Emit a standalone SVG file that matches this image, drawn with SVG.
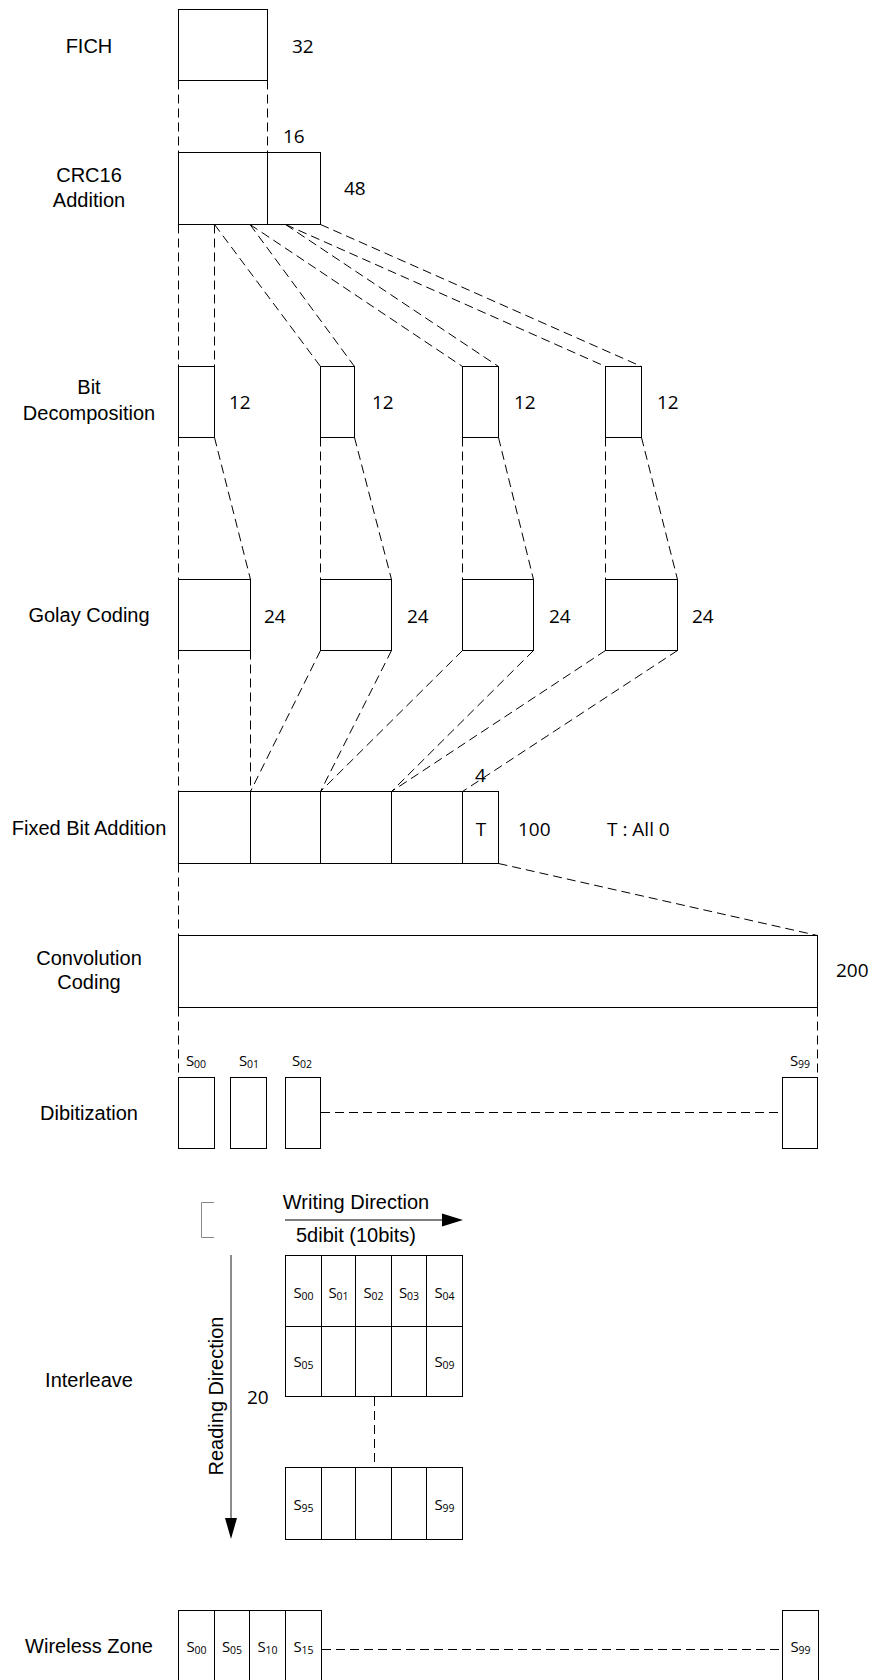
<svg xmlns="http://www.w3.org/2000/svg" width="876" height="1680" viewBox="0 0 876 1680">
<style>
.bx{fill:#fff;stroke:#000;stroke-width:1}
.dv{fill:none;stroke:#000;stroke-width:1}
.dash{fill:none;stroke:#000;stroke-width:1;stroke-dasharray:9 5}
.lbl{font-family:"Liberation Sans",Arial,sans-serif;font-size:20px;fill:#000;text-anchor:middle}
.num{font-family:"Open Sans","Liberation Sans",sans-serif;font-size:19px;fill:#000}
.s{font-family:"Open Sans","Liberation Sans",sans-serif;font-size:15px;fill:#000;text-anchor:middle}
.sub{font-size:10.5px}
</style>
<rect width="876" height="1680" fill="#fff"/>

<g id="connectors">
  <line class="dash" x1="178.5" y1="80.5" x2="178.5" y2="152.5"/>
  <line class="dash" x1="267.5" y1="80.5" x2="267.5" y2="152.5"/>

  <line class="dash" x1="178.5" y1="224.5" x2="178.5" y2="366.5"/>
  <line class="dash" x1="214.5" y1="224.5" x2="214.5" y2="366.5"/>
  <line class="dash" x1="214.5" y1="224.5" x2="320.5" y2="366.5"/>
  <line class="dash" x1="250" y1="224.5" x2="354.5" y2="366.5"/>
  <line class="dash" x1="250" y1="224.5" x2="462.5" y2="366.5"/>
  <line class="dash" x1="285.5" y1="224.5" x2="498.5" y2="366.5"/>
  <line class="dash" x1="285.5" y1="224.5" x2="605.5" y2="366.5"/>
  <line class="dash" x1="320.5" y1="224.5" x2="641.5" y2="366.5"/>

  <line class="dash" x1="178.5" y1="437.5" x2="178.5" y2="579.5"/>
  <line class="dash" x1="214.5" y1="437.5" x2="250.5" y2="579.5"/>
  <line class="dash" x1="320.5" y1="437.5" x2="320.5" y2="579.5"/>
  <line class="dash" x1="354.5" y1="437.5" x2="391.5" y2="579.5"/>
  <line class="dash" x1="462.5" y1="437.5" x2="462.5" y2="579.5"/>
  <line class="dash" x1="498.5" y1="437.5" x2="533.5" y2="579.5"/>
  <line class="dash" x1="605.5" y1="437.5" x2="605.5" y2="579.5"/>
  <line class="dash" x1="641.5" y1="437.5" x2="677.5" y2="579.5"/>

  <line class="dash" x1="178.5" y1="650.5" x2="178.5" y2="791.5"/>
  <line class="dash" x1="250.5" y1="650.5" x2="250.5" y2="791.5"/>
  <line class="dash" x1="320.5" y1="650.5" x2="250.5" y2="791.5"/>
  <line class="dash" x1="391.5" y1="650.5" x2="320.5" y2="791.5"/>
  <line class="dash" x1="462.5" y1="650.5" x2="320.5" y2="791.5"/>
  <line class="dash" x1="533.5" y1="650.5" x2="391.5" y2="791.5"/>
  <line class="dash" x1="605.5" y1="650.5" x2="391.5" y2="791.5"/>
  <line class="dash" x1="677.5" y1="650.5" x2="462.5" y2="791.5"/>

  <line class="dash" x1="178.5" y1="863.5" x2="178.5" y2="935.5"/>
  <line class="dash" x1="498.5" y1="863.5" x2="817.5" y2="935.5"/>

  <line class="dash" x1="178.5" y1="1007.5" x2="178.5" y2="1077.5"/>
  <line class="dash" x1="817.5" y1="1007.5" x2="817.5" y2="1077.5"/>

  <line class="dash" x1="321" y1="1112.5" x2="780" y2="1112.5"/>
  <line class="dash" x1="374.5" y1="1397" x2="374.5" y2="1464"/>
  <line class="dash" x1="322" y1="1649.5" x2="782" y2="1649.5"/>
</g>

<g id="fich">
  <text class="lbl" x="89" y="53">FICH</text>
  <rect class="bx" x="178.5" y="9.5" width="89" height="71"/>
  <text class="num" x="292" y="53">32</text>
</g>

<g id="crc16">
  <text class="lbl" x="89" y="182">CRC16</text>
  <text class="lbl" x="89" y="207">Addition</text>
  <rect class="bx" x="178.5" y="152.5" width="142" height="72"/>
  <line class="dv" x1="267.5" y1="152.5" x2="267.5" y2="224.5"/>
  <text class="num" x="283" y="143">16</text>
  <text class="num" x="344" y="195">48</text>
</g>

<g id="bit-decomposition">
  <text class="lbl" x="89" y="394">Bit</text>
  <text class="lbl" x="89" y="420">Decomposition</text>
  <rect class="bx" x="178.5" y="366.5" width="36" height="71"/>
  <rect class="bx" x="320.5" y="366.5" width="34" height="71"/>
  <rect class="bx" x="462.5" y="366.5" width="36" height="71"/>
  <rect class="bx" x="605.5" y="366.5" width="36" height="71"/>
  <text class="num" x="229" y="409">12</text>
  <text class="num" x="372" y="409">12</text>
  <text class="num" x="514" y="409">12</text>
  <text class="num" x="657" y="409">12</text>
</g>

<g id="golay-coding">
  <text class="lbl" x="89" y="622">Golay Coding</text>
  <rect class="bx" x="178.5" y="579.5" width="72" height="71"/>
  <rect class="bx" x="320.5" y="579.5" width="71" height="71"/>
  <rect class="bx" x="462.5" y="579.5" width="71" height="71"/>
  <rect class="bx" x="605.5" y="579.5" width="72" height="71"/>
  <text class="num" x="264" y="623">24</text>
  <text class="num" x="407" y="623">24</text>
  <text class="num" x="549" y="623">24</text>
  <text class="num" x="692" y="623">24</text>
</g>

<g id="fixed-bit-addition">
  <text class="lbl" x="89" y="835">Fixed Bit Addition</text>
  <rect class="bx" x="178.5" y="791.5" width="320" height="72"/>
  <line class="dv" x1="250.5" y1="791.5" x2="250.5" y2="863.5"/>
  <line class="dv" x1="320.5" y1="791.5" x2="320.5" y2="863.5"/>
  <line class="dv" x1="391.5" y1="791.5" x2="391.5" y2="863.5"/>
  <line class="dv" x1="462.5" y1="791.5" x2="462.5" y2="863.5"/>
  <text class="num" x="481" y="836" text-anchor="middle">T</text>
  <text class="num" x="475" y="782">4</text>
  <text class="num" x="518" y="836">100</text>
  <text class="num" x="607" y="836">T : All 0</text>
</g>

<g id="convolution-coding">
  <text class="lbl" x="89" y="965">Convolution</text>
  <text class="lbl" x="89" y="989">Coding</text>
  <rect class="bx" x="178.5" y="935.5" width="639" height="72"/>
  <text class="num" x="836" y="977">200</text>
</g>

<g id="dibitization">
  <text class="lbl" x="89" y="1120">Dibitization</text>
  <rect class="bx" x="178.5" y="1077.5" width="36" height="71"/>
  <rect class="bx" x="230.5" y="1077.5" width="36" height="71"/>
  <rect class="bx" x="285.5" y="1077.5" width="35" height="71"/>
  <rect class="bx" x="782.5" y="1077.5" width="35" height="71"/>
  <text class="s" x="196" y="1066">S<tspan class="sub" dy="1.5">00</tspan></text>
  <text class="s" x="249" y="1066">S<tspan class="sub" dy="1.5">01</tspan></text>
  <text class="s" x="302" y="1066">S<tspan class="sub" dy="1.5">02</tspan></text>
  <text class="s" x="800" y="1066">S<tspan class="sub" dy="1.5">99</tspan></text>
</g>

<g id="interleave">
  <text class="lbl" x="89" y="1387">Interleave</text>
  <path d="M214 1202.5 H201.5 V1237.5 H214" fill="none" stroke="#888" stroke-width="1"/>
  <text class="lbl" x="356" y="1209">Writing Direction</text>
  <line x1="285" y1="1220" x2="444" y2="1220" stroke="#000" stroke-width="1"/>
  <polygon points="442,1213.5 463,1220 442,1226.5" fill="#000"/>
  <text class="lbl" x="356" y="1242">5dibit (10bits)</text>
  <line x1="231" y1="1255" x2="231" y2="1520" stroke="#666" stroke-width="1.5"/>
  <polygon points="225,1518 237,1518 231,1539" fill="#000"/>
  <text class="lbl" transform="translate(223,1396) rotate(-90)" x="0" y="0">Reading Direction</text>
  <text class="num" x="247" y="1404">20</text>
  <rect class="bx" x="285.5" y="1255.5" width="177" height="141"/>
  <line class="dv" x1="285.5" y1="1326.5" x2="462.5" y2="1326.5"/>
  <line class="dv" x1="321.5" y1="1255.5" x2="321.5" y2="1396.5"/>
  <line class="dv" x1="355.5" y1="1255.5" x2="355.5" y2="1396.5"/>
  <line class="dv" x1="391.5" y1="1255.5" x2="391.5" y2="1396.5"/>
  <line class="dv" x1="426.5" y1="1255.5" x2="426.5" y2="1396.5"/>
  <rect class="bx" x="285.5" y="1467.5" width="177" height="72"/>
  <line class="dv" x1="321.5" y1="1467.5" x2="321.5" y2="1539.5"/>
  <line class="dv" x1="355.5" y1="1467.5" x2="355.5" y2="1539.5"/>
  <line class="dv" x1="391.5" y1="1467.5" x2="391.5" y2="1539.5"/>
  <line class="dv" x1="426.5" y1="1467.5" x2="426.5" y2="1539.5"/>
  <text class="s" x="303.5" y="1298">S<tspan class="sub" dy="1.5">00</tspan></text>
  <text class="s" x="338.5" y="1298">S<tspan class="sub" dy="1.5">01</tspan></text>
  <text class="s" x="373.5" y="1298">S<tspan class="sub" dy="1.5">02</tspan></text>
  <text class="s" x="409" y="1298">S<tspan class="sub" dy="1.5">03</tspan></text>
  <text class="s" x="444.5" y="1298">S<tspan class="sub" dy="1.5">04</tspan></text>
  <text class="s" x="303.5" y="1367">S<tspan class="sub" dy="1.5">05</tspan></text>
  <text class="s" x="444.5" y="1367">S<tspan class="sub" dy="1.5">09</tspan></text>
  <text class="s" x="303.5" y="1510">S<tspan class="sub" dy="1.5">95</tspan></text>
  <text class="s" x="444.5" y="1510">S<tspan class="sub" dy="1.5">99</tspan></text>
</g>

<g id="wireless-zone">
  <text class="lbl" x="89" y="1653">Wireless Zone</text>
  <rect class="bx" x="178.5" y="1610.5" width="143" height="80"/>
  <line class="dv" x1="214.5" y1="1610.5" x2="214.5" y2="1690"/>
  <line class="dv" x1="249.5" y1="1610.5" x2="249.5" y2="1690"/>
  <line class="dv" x1="285.5" y1="1610.5" x2="285.5" y2="1690"/>
  <rect class="bx" x="782.5" y="1610.5" width="36" height="80"/>
  <text class="s" x="196.5" y="1652">S<tspan class="sub" dy="1.5">00</tspan></text>
  <text class="s" x="232" y="1652">S<tspan class="sub" dy="1.5">05</tspan></text>
  <text class="s" x="267.5" y="1652">S<tspan class="sub" dy="1.5">10</tspan></text>
  <text class="s" x="303.5" y="1652">S<tspan class="sub" dy="1.5">15</tspan></text>
  <text class="s" x="800.5" y="1652">S<tspan class="sub" dy="1.5">99</tspan></text>
</g>
</svg>
